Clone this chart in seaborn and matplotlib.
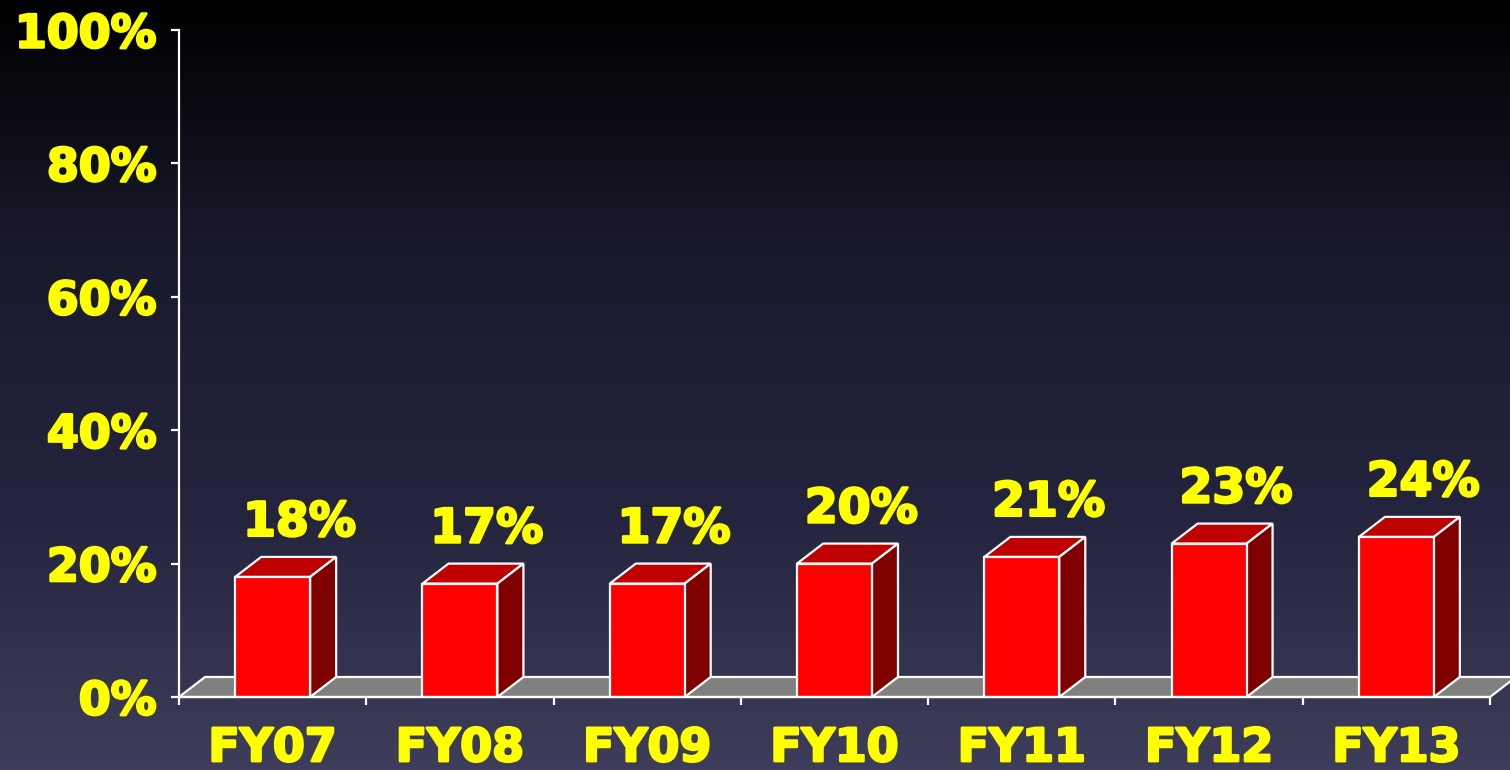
import matplotlib
matplotlib.use("Agg")
import matplotlib.pyplot as plt
import matplotlib.patheffects as pe
import numpy as np
import pandas as pd
import seaborn as sns

from matplotlib.colors import LinearSegmentedColormap

years = ["FY07", "FY08", "FY09", "FY10", "FY11", "FY12", "FY13"]
shares = [18, 17, 17, 20, 21, 23, 24]
y_ticks = [0, 20, 40, 60, 80, 100]

FRONT = "#ff0000"
TOP = "#bf0000"
SIDE = "#800000"
YELLOW = "#ffff00"

plt.rcParams["font.family"] = ["DejaVu Sans"]

# thicker strokes, the original font is heavier than DejaVu bold
heavy = [pe.withStroke(linewidth=1.8, foreground=YELLOW)]

fig = plt.figure(figsize=(15.1, 7.7), dpi=100)

# background gradient, black at top to slate blue at the bottom
bg = fig.add_axes([0, 0, 1, 1])
grad = np.linspace(0, 1, 256).reshape(-1, 1)
cmap = LinearSegmentedColormap.from_list(
    "bg", ["#000000", "#1a1a2e", "#24243e", "#3e3e5c"], N=256)
bg.imshow(grad, aspect="auto", cmap=cmap, extent=[0, 1, 0, 1], origin="upper")
bg.axis("off")

ax = fig.add_axes([179 / 1510, 73 / 770, 1311 / 1510, 667 / 770])
ax.patch.set_alpha(0)

df = pd.DataFrame({"year": years, "share": shares})
bar_w = 0.4
sns.barplot(data=df, x="year", y="share", color=FRONT, width=bar_w,
            edgecolor="white", linewidth=1.6, saturation=1, ax=ax, zorder=3)

ax.set_xlim(-0.5, len(years) - 0.5)
ax.set_ylim(0, 100)

# depth of the fake 3d, in data units
dx = 0.139
dy = 3.0

# floor
x0, x1 = -0.5, len(years) - 0.5
ax.fill([x0, x1, x1 + dx, x0 + dx], [0, 0, dy, dy], color="#808080",
        ec="white", lw=1.6, zorder=1, clip_on=False)

for i, v in enumerate(shares):
    l, r = i - bar_w / 2, i + bar_w / 2
    # top face
    ax.fill([l, r, r + dx, l + dx], [v, v, v + dy, v + dy], color=TOP,
            ec="white", lw=1.6, zorder=2, clip_on=False)
    # side face
    ax.fill([r, r + dx, r + dx, r], [0, dy, v + dy, v], color=SIDE,
            ec="white", lw=1.6, zorder=2, clip_on=False)
    ax.annotate(f"{v}%", (i + dx / 2, v + dy), xytext=(10, 8),
                textcoords="offset points", ha="center", va="bottom",
                color=YELLOW, fontsize=34, fontweight="bold",
                path_effects=heavy)

ax.set_xlabel("")
ax.set_ylabel("")
ax.set_yticks(y_ticks)
ax.set_yticklabels([f"{t}%" for t in y_ticks])
ax.set_xticks(np.arange(len(years)))
ax.set_xticklabels(years)
ax.set_xticks(np.arange(len(years) + 1) - 0.5, minor=True)

ax.tick_params(axis="y", colors="white", labelcolor=YELLOW, length=6,
               width=1.6, pad=10, labelsize=33)
ax.tick_params(axis="x", which="major", length=0, labelcolor=YELLOW,
               pad=21, labelsize=33)
ax.tick_params(axis="x", which="minor", colors="white", length=6, width=1.6)
for lab in ax.get_xticklabels() + ax.get_yticklabels():
    lab.set_fontweight("bold")
    lab.set_path_effects(heavy)

for s in ["top", "right"]:
    ax.spines[s].set_visible(False)
for s in ["left", "bottom"]:
    ax.spines[s].set_color("white")
    ax.spines[s].set_linewidth(1.6)
    ax.spines[s].set_zorder(4)
ax.grid(False)

fig.savefig("out.png", dpi=100)
